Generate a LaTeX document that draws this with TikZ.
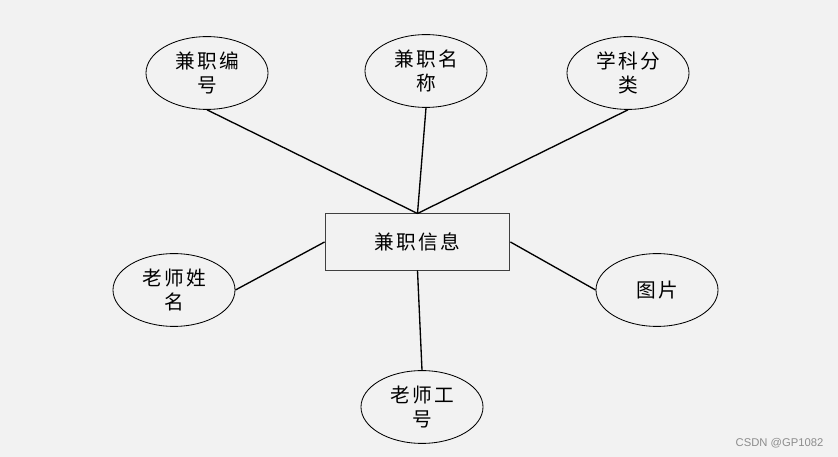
\documentclass[tikz,border=0pt]{standalone}
\usepackage{fontspec}
\newfontfamily\cjk[LetterSpace=12]{Noto Sans CJK SC}
\newfontfamily\marque{Liberation Sans}
\usetikzlibrary{shapes.geometric}
\definecolor{fond}{RGB}{242,242,242}
\begin{document}
\begin{tikzpicture}[x=0.025cm, y=-0.025cm]
	\tikzset{attribut/.style={ellipse, draw=black, line width=0.6pt, minimum width=3.05cm, minimum height=1.82cm, inner sep=0pt, align=center, font=\cjk\fontsize{14}{17.5}\selectfont},
	entite/.style={rectangle, draw=black!75, line width=0.7pt, minimum width=4.62cm, minimum height=1.4cm, font=\cjk\fontsize{14}{17.5}\selectfont},
	lien/.style={line width=0.95pt}};

	\fill[fond] (0,0) rectangle (838,457);
	\useasboundingbox (0,0) rectangle (838,457);

	\node[entite] (info) at (417.5,242) {兼职信息};

	\foreach \name/\x/\y/\text in {bianhao/207/73/{兼职编\\号}, mingcheng/426/71/{兼职名\\称}, xueke/628/73/{学科分\\类},
		xingming/174/290/{老师姓\\名}, tupian/657/290/{图片}, gonghao/422/407/{老师工\\号}}{
		\node[attribut] (\name) at (\x,\y) {\text};
	}

	\draw[lien] (bianhao.south) -- (info.north);
	\draw[lien] (mingcheng.south) -- (info.north);
	\draw[lien] (xueke.south) -- (info.north);
	\draw[lien] (info.west) -- (xingming.east);
	\draw[lien] (info.east) -- (tupian.west);
	\draw[lien] (info.south) -- (gonghao.north);

	\node[font=\marque\fontsize{8}{10}\selectfont, text=black!45] (csdn) at (779.5,443) {CSDN @GP1082};
\end{tikzpicture}
\end{document}
